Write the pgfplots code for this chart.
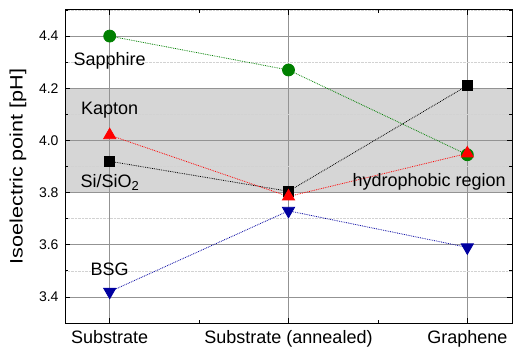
\documentclass[border=0pt]{standalone}
\usepackage{pgfplots}
\pgfplotsset{compat=1.18}
\usepackage{fontspec}
\setmainfont{Liberation Sans}
\newfontfamily\ylfont{Liberation Sans}[FakeStretch=1.2]
\definecolor{bandgray}{RGB}{214,214,214}
\definecolor{mygreen}{RGB}{0,128,0}
\definecolor{myblue}{RGB}{0,0,160}
\begin{document}
\begin{tikzpicture}
\begin{axis}[
  set layers,
  scale only axis,
  width=447bp, height=313bp,
  xmin=-0.25, xmax=2.25,
  ymin=3.3, ymax=4.5,
  xtick={0,1,2},
  xticklabels={Substrate, Substrate (annealed), Graphene},
  minor xtick={0.5,1.5},
  ytick={3.4,3.6,3.8,4.0,4.2,4.4},
  minor ytick={3.3,3.5,3.7,3.9,4.1,4.3,4.5},
  ticklabel style={font=\fontsize{14bp}{15bp}\selectfont},
  yticklabel style={xshift=-3bp, /pgf/number format/.cd, fixed, fixed zerofill, precision=1},
  /pgf/number format/assume math mode=true,
  xmajorgrids, ymajorgrids, yminorgrids,
  major grid style={draw=gray!85, line width=0.6bp},
  minor grid style={draw=gray!35, densely dotted, line width=0.6bp},
  tick align=inside,
  major tick length=5bp, minor tick length=3bp,
  tick style={black, line width=0.8bp},
  axis line style={black, line width=1bp},
  xticklabel style={font=\fontsize{18bp}{20bp}\selectfont, yshift=-4bp},
  ylabel={Isoelectric point [pH]},
  every axis y label/.style={at={(rel axis cs:0,0.5)}, xshift=-47bp, rotate=90, anchor=center,
    font=\ylfont\fontsize{18bp}{20bp}\selectfont},
  clip=false,
]
\begin{pgfonlayer}{axis background}
\fill[bandgray] (axis cs:-0.25,3.8) rectangle (axis cs:2.25,4.2);
\end{pgfonlayer}

\addplot[mygreen, densely dotted, line width=0.8bp, mark=*, mark size=6bp, mark options={solid}]
  coordinates {(0,4.40) (1,4.27) (2,3.945)};
\addplot[black, densely dotted, line width=0.8bp, mark=square*, mark size=5bp, mark options={solid}]
  coordinates {(0,3.92) (1,3.805) (2,4.21)};
\addplot[red, densely dotted, line width=0.8bp, mark=triangle*, mark size=7bp, mark options={solid}]
  coordinates {(0,4.02) (1,3.785) (2,3.95)};
\addplot[myblue, densely dotted, line width=0.8bp, mark=triangle*, mark size=7bp, mark options={solid, rotate=180}]
  coordinates {(0,3.42) (1,3.73) (2,3.59)};

\node[font=\fontsize{18bp}{20bp}\selectfont] at (axis cs:0,4.305) {Sapphire};
\node[font=\fontsize{18bp}{20bp}\selectfont] at (axis cs:0,4.115) {Kapton};
\node[font=\fontsize{18bp}{20bp}\selectfont] at (axis cs:0,3.84) {Si/SiO\raisebox{-0.35ex}{\fontsize{13bp}{14bp}\selectfont 2}};
\node[font=\fontsize{18bp}{20bp}\selectfont] at (axis cs:0,3.506) {BSG};
\node[font=\fontsize{18bp}{20bp}\selectfont, anchor=east] at (axis cs:2.235,3.84) {hydrophobic region};
\end{axis}
\path (current axis.south west) ++(-65bp,-28bp) rectangle ++(514bp,351bp);
\end{tikzpicture}
\end{document}
